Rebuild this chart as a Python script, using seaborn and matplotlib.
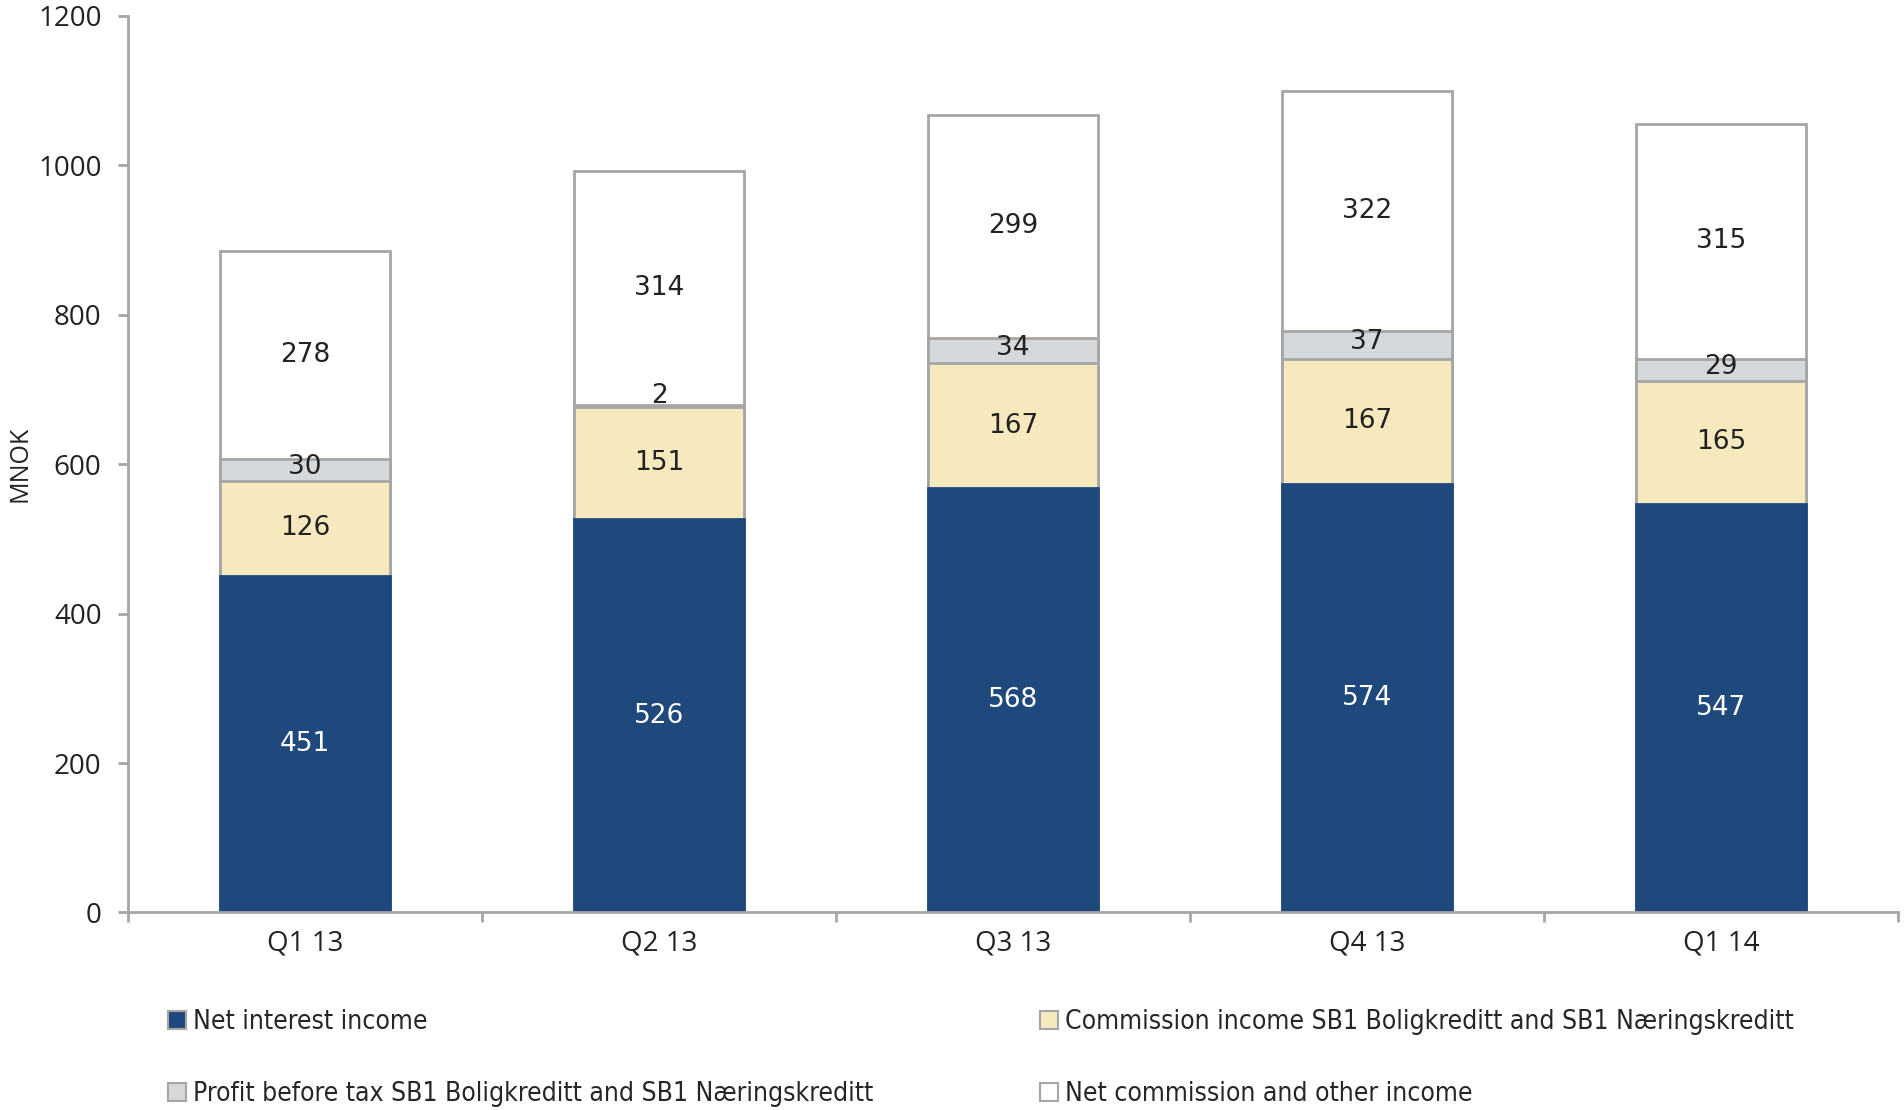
import numpy as np
import pandas as pd
import matplotlib
matplotlib.use("Agg")
import matplotlib.pyplot as plt
import seaborn as sns
from matplotlib.patches import Patch
from matplotlib.ticker import FixedLocator
from matplotlib.font_manager import FontProperties

quarters = ["Q1 13", "Q2 13", "Q3 13", "Q4 13", "Q1 14"]
net_interest = [451, 526, 568, 574, 547]
commission_sb1 = [126, 151, 167, 167, 165]
profit_sb1 = [30, 2, 34, 37, 29]
net_commission_other = [278, 314, 299, 322, 315]

series_names = [
    "Net interest income",
    "Commission income SB1 Boligkreditt and SB1 Næringskreditt",
    "Profit before tax SB1 Boligkreditt and SB1 Næringskreditt",
    "Net commission and other income",
]
series_values = [net_interest, commission_sb1, profit_sb1, net_commission_other]
colors = ["#1F497D", "#F5E9BD", "#D5D9DC", "#FFFFFF"]
label_colors = ["white", "#222222", "#222222", "#222222"]
edge = "#A6A6A6"

sns.set_theme(style="white")
plt.rcParams["font.family"] = ["Open Sans", "DejaVu Sans"]

fig = plt.figure(figsize=(19.04, 11.10), dpi=100)
ax = fig.add_axes([0.0672, 0.178, 0.9298, 0.8076])

vals = np.array(series_values, dtype=float)
tops = np.cumsum(vals, axis=0)
bottoms = tops - vals

# stacked bars: draw cumulative heights from the top segment downward
for i in reversed(range(len(series_names))):
    df = pd.DataFrame({"quarter": quarters, "value": tops[i]})
    sns.barplot(data=df, x="quarter", y="value", color=colors[i], width=0.48,
                edgecolor=edge if i > 0 else colors[0], linewidth=2.0,
                saturation=1, ax=ax, order=quarters)

# value labels
for i in range(len(series_names)):
    for j in range(len(quarters)):
        yc = bottoms[i, j] + vals[i, j] / 2
        if vals[i, j] < 10:
            yc = tops[i, j] + 12
        elif vals[i, j] < 50:
            yc += 4
        ax.text(j, yc, f"{int(vals[i, j])}", ha="center", va="center",
                fontsize=19, color=label_colors[i], family=["DejaVu Sans"])

ax.set_xlim(-0.5, 4.5)
ax.set_ylim(0, 1200)
ax.set_yticks(np.arange(0, 1201, 200))
ax.set_xlabel("")
ax.set_ylabel("MNOK", fontsize=18, color="#222222", labelpad=4)

for s in ["top", "right"]:
    ax.spines[s].set_visible(False)
for s in ["left", "bottom"]:
    ax.spines[s].set_color(edge)
    ax.spines[s].set_linewidth(2)

ax.tick_params(axis="y", which="major", left=True, length=7, width=2, color=edge,
               labelsize=20, labelcolor="#222222", pad=12)
ax.tick_params(axis="x", which="major", bottom=False, labelsize=20,
               labelcolor="#222222", pad=6)
ax.xaxis.set_minor_locator(FixedLocator(np.arange(-0.5, 4.6, 1.0)))
ax.tick_params(axis="x", which="minor", bottom=True, length=7, width=2, color=edge)

handles = [Patch(facecolor=colors[i], edgecolor=edge, linewidth=1.5) for i in range(4)]
leg_font = FontProperties(family=["DejaVu Sans"], stretch="condensed", size=19)
leg_kw = dict(loc="upper left", frameon=False, prop=leg_font, handlelength=0.7,
              handleheight=0.7, handletextpad=0.25, labelspacing=1.76,
              borderaxespad=0, borderpad=0)
leg1 = fig.legend([handles[0], handles[2]], [series_names[0], series_names[2]],
                  bbox_to_anchor=(0.088, 0.091), **leg_kw)
leg2 = fig.legend([handles[1], handles[3]], [series_names[1], series_names[3]],
                  bbox_to_anchor=(0.546, 0.091), **leg_kw)

fig.savefig("out.png", dpi=100, facecolor="white")
